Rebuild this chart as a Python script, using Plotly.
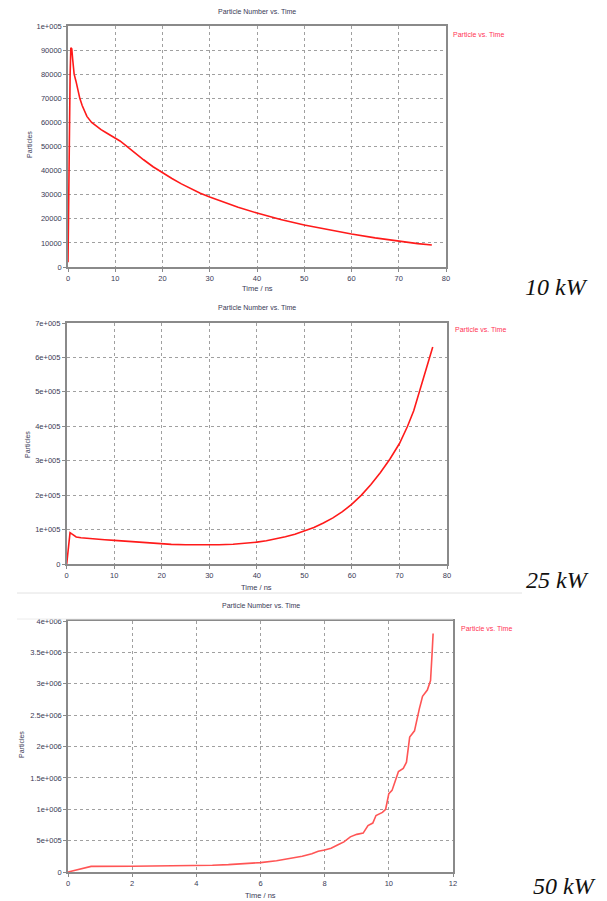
import plotly.graph_objects as go

# viewport is 607x901; the page body has an 8px default margin, so the figure is 599x893
VW, VH = 607, 901
OFF = 8
W, H = VW - OFF, VH - OFF


def px(x):
    return (x - OFF) / W


def py(y):
    return 1 - (y - OFF) / H


# ---- data ----
t_10kw = [0, 0.05, 0.15, 0.25, 0.35, 0.45, 0.6, 0.8, 1.0, 1.3, 1.7, 2.0, 2.5, 3, 3.5, 4, 5, 6, 7, 8,
          9, 10, 11, 12, 14, 16, 18, 20, 22, 24, 26, 28, 30, 33, 36, 40, 45, 50, 55, 60, 65, 70,
          74, 77]
n_10kw = [2000, 15000, 25000, 50000, 62000, 80000, 91000, 90500, 86000, 80000, 77000, 74000, 70000,
          67000, 64500, 62500, 60000, 58300, 57000, 55800, 54700, 53600, 52300, 50800, 47500, 44500,
          41600, 39000, 36700, 34500, 32500, 30600, 29000, 26800, 24800, 22400, 19700, 17400, 15400,
          13700, 12100, 10700, 9700, 9100]

t_25kw = [0, 0.3, 0.7, 1.0, 1.5, 2, 3, 4, 6, 8, 10, 12, 14, 16, 18, 20, 22, 25, 28, 30, 32, 35, 38,
          40, 42, 44, 46, 48, 50, 52, 54, 56, 58, 60, 62, 64, 66, 68, 70, 71.7, 73, 74.2, 75.5,
          76.5, 77]
n_25kw = [0, 45000, 91000, 88000, 82000, 78500, 76000, 74500, 72500, 70500, 68500, 66500, 64000,
          61500, 59500, 58000, 57000, 56000, 55500, 55500, 56000, 57500, 60500, 63500, 67500, 72500,
          79000, 86500, 95500, 106000, 119000, 134000, 152000, 174000, 200000, 231000, 266000,
          305000, 350000, 400000, 445000, 500000, 555000, 605000, 630000]

t_50kw = [0, 0.72, 2, 3.4, 3.5, 4, 4.5, 5, 5.5, 6, 6.5, 7, 7.3, 7.6, 7.8, 8, 8.2, 8.4, 8.6, 8.8,
          9.0, 9.2, 9.35, 9.5, 9.6, 9.8, 9.9, 10.0, 10.1, 10.2, 10.3, 10.45, 10.55, 10.65, 10.8,
          10.95, 11.05, 11.2, 11.3, 11.35, 11.38]
n_50kw = [0, 90000, 92000, 95000, 100000, 102000, 108000, 118000, 130000, 150000, 180000, 220000,
          250000, 290000, 330000, 350000, 380000, 430000, 480000, 560000, 600000, 620000, 740000,
          780000, 900000, 950000, 1000000, 1250000, 1300000, 1450000, 1600000, 1650000, 1750000,
          2150000, 2250000, 2600000, 2800000, 2900000, 3050000, 3500000, 3800000]

y1_vals = [0, 10000, 20000, 30000, 40000, 50000, 60000, 70000, 80000, 90000, 100000]
y1_text = ["0", "10000", "20000", "30000", "40000", "50000", "60000", "70000", "80000", "90000", "1e+005"]
y2_vals = [0, 100000, 200000, 300000, 400000, 500000, 600000, 700000]
y2_text = ["0", "1e+005", "2e+005", "3e+005", "4e+005", "5e+005", "6e+005", "7e+005"]
y3_vals = [0, 500000, 1000000, 1500000, 2000000, 2500000, 3000000, 3500000, 4000000]
y3_text = ["0", "5e+005", "1e+006", "1.5e+006", "2e+006", "2.5e+006", "3e+006", "3.5e+006", "4e+006"]
x12_vals = [0, 10, 20, 30, 40, 50, 60, 70, 80]
x3_vals = [0, 2, 4, 6, 8, 10, 12]

power_labels = ["10 kW", "25 kW", "50 kW"]
chart_title = "Particle Number vs. Time"
series_name = "Particle vs. Time"

# ---- layout geometry (viewport pixels) ----
panels = [
    dict(x0=68, x1=446, ytop=26, ybot=267, xr=[0, 80], yr=[0, 100000], yv=y1_vals, yt=y1_text,
         xv=x12_vals, title_y=12, xt_y=288, leg=(452, 34), pl=(556, 287), ylab=(30, 145),
         color="#ff1a1a"),
    dict(x0=66.7, x1=447, ytop=323, ybot=564, xr=[0, 80], yr=[0, 700000], yv=y2_vals, yt=y2_text,
         xv=x12_vals, title_y=307, xt_y=587, leg=(454, 329), pl=(557, 580), ylab=(28, 445),
         color="#ff1a1a"),
    dict(x0=68, x1=453, ytop=621, ybot=872, xr=[0, 12], yr=[0, 4000000], yv=y3_vals, yt=y3_text,
         xv=x3_vals, title_y=605, xt_y=895, leg=(460, 628), pl=(564, 886), ylab=(21, 745),
         color="#ff5555"),
]
series = [(t_10kw, n_10kw), (t_25kw, n_25kw), (t_50kw, n_50kw)]

FONT = "Liberation Sans"
TXT = "#3a3a55"

fig = go.Figure()
annotations = []
for i, (p, (xs, ys)) in enumerate(zip(panels, series)):
    k = "" if i == 0 else str(i + 1)
    fig.add_trace(go.Scatter(x=xs, y=ys, mode="lines", name=series_name,
                             line=dict(color=p["color"], width=1.6),
                             xaxis="x" + k, yaxis="y" + k, showlegend=False))
    common = dict(showgrid=True, gridcolor="#a0a0a0", griddash="dot", gridwidth=1,
                  showline=True, linecolor="#8a8a8a", linewidth=1.5, mirror=True,
                  ticks="outside", ticklen=3, tickcolor="#8a8a8a", zeroline=False,
                  automargin=False, tickfont=dict(family=FONT, size=7.5, color=TXT))
    fig.update_layout(**{
        "xaxis" + k: dict(domain=[px(p["x0"]), px(p["x1"])], range=p["xr"], tickvals=p["xv"],
                          anchor="y" + k, **common),
        "yaxis" + k: dict(domain=[py(p["ybot"]), py(p["ytop"])], range=p["yr"],
                          tickvals=p["yv"], ticktext=p["yt"], anchor="x" + k, **common),
    })
    cx = (p["x0"] + p["x1"]) / 2
    base = dict(xref="paper", yref="paper", showarrow=False, xanchor="center", yanchor="middle",
                borderpad=0)
    annotations += [
        dict(text=chart_title, x=px(cx), y=py(p["title_y"]),
             font=dict(family=FONT, size=7, color=TXT), **base),
        dict(text="Time / ns", x=px(cx), y=py(p["xt_y"]),
             font=dict(family=FONT, size=7.5, color=TXT), **base),
        dict(text="Particles", x=px(p["ylab"][0]), y=py(p["ylab"][1]), textangle=-90,
             font=dict(family=FONT, size=7, color=TXT), **base),
        dict(text=series_name, x=px(p["leg"][0]), y=py(p["leg"][1]),
             font=dict(family=FONT, size=7, color="#ff3355"),
             **{**base, "xanchor": "left"}),
        dict(text="<i>" + power_labels[i] + "</i>", x=px(p["pl"][0]), y=py(p["pl"][1]),
             font=dict(family="Liberation Serif", size=24, color="#111111"), **base),
    ]

shapes = [
    dict(type="line", xref="paper", yref="paper", x0=px(17), x1=px(522), y0=py(593), y1=py(593),
         line=dict(color="#e2e2e2", width=1)),
    dict(type="line", xref="paper", yref="paper", x0=px(17), x1=px(453), y0=py(619), y1=py(619),
         line=dict(color="#ececec", width=1)),
]

fig.update_layout(template="none", width=W, height=H, margin=dict(l=0, r=0, t=0, b=0, pad=0),
                  paper_bgcolor="white", plot_bgcolor="white",
                  annotations=annotations, shapes=shapes, showlegend=False)

fig.write_html("out.html")
